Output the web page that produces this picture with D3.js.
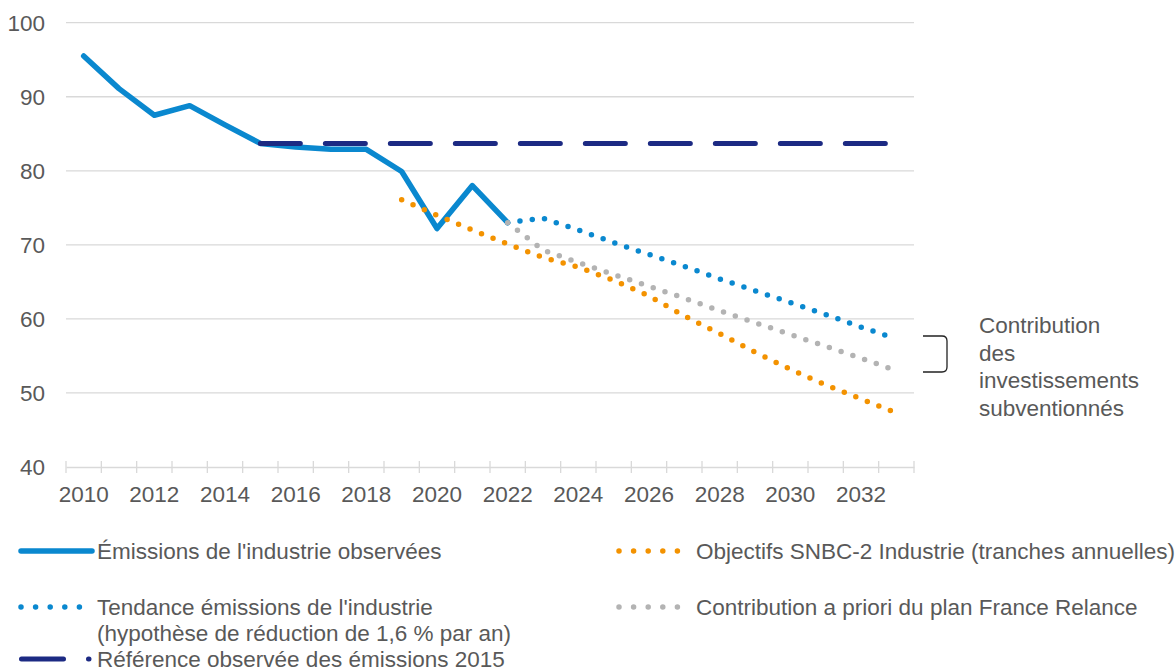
<!DOCTYPE html>
<html>
<head>
<meta charset="utf-8">
<script src="https://cdn.jsdelivr.net/npm/d3@7"></script>
<style>
  body { margin: 0; background: #fff; }
  svg { display: block; font-family: "Liberation Sans", Arial, sans-serif; }
</style>
</head>
<body>
<svg id="chart" width="1176" height="671"></svg>
<script>
// categories (x axis)
const years = [2010, 2011, 2012, 2013, 2014, 2015, 2016, 2017, 2018, 2019, 2020, 2021,
  2022, 2023, 2024, 2025, 2026, 2027, 2028, 2029, 2030, 2031, 2032, 2033];
const yTicks = [40, 50, 60, 70, 80, 90, 100];

// observed industry emissions, 2010-2022
const observedYears = [2010, 2011, 2012, 2013, 2014, 2015, 2016, 2017, 2018, 2019, 2020, 2021, 2022];
const observed = [95.5, 91.1, 87.5, 88.8, 86.2, 83.7, 83.2, 82.9, 82.9, 79.9, 72.2, 78.0, 73.0];

// 2015 reference level
const referenceYears = [2015, 2033];
const reference = [83.7, 83.7];

// trend (-1.6 %/yr hypothesis), 2022-2033
const trendYears = [2022, 2023, 2024, 2025, 2026, 2027, 2028, 2029, 2030, 2031, 2032, 2033];
const trend = [73.0, 73.6, 72.0, 70.3, 68.7, 67.1, 65.4, 63.8, 62.2, 60.6, 58.9, 57.3];

// SNBC-2 objectives, 2019-2033
const snbcYears = [2019, 2020, 2021, 2022, 2023, 2024, 2025, 2026, 2027, 2028, 2029, 2030, 2031, 2032, 2033];
const snbc = [76.1, 74.0, 72.0, 70.1, 68.3, 67.0, 65.2, 63.1, 60.4, 58.0, 55.5, 53.2, 51.1, 49.2, 47.3];

// France Relance contribution, 2022-2033
const relanceYears = [2022, 2023, 2024, 2025, 2026, 2027, 2028, 2029, 2030, 2031, 2032, 2033];
const relance = [73.0, 69.3, 67.6, 66.0, 64.4, 62.8, 61.1, 59.5, 57.9, 56.3, 54.7, 53.0];

const textColor = "#595959";
const gridColor = "#d9d9d9";
const blue = "#0a88cf";
const navy = "#1c2a83";
const orange = "#f39200";
const grey = "#b3b3b3";
const fontSize = 22.5;

const svg = d3.select("#chart");

const x = d3.scaleBand().domain(years).range([66, 914]);
const y = d3.scaleLinear().domain([40, 100]).range([467, 22.7]);
const cx = (yr) => x(yr) + x.bandwidth() / 2;

// gridlines
svg.append("g")
  .selectAll("line")
  .data(yTicks.filter((d) => d > 40))
  .join("line")
  .attr("x1", 66).attr("x2", 914)
  .attr("y1", (d) => y(d)).attr("y2", (d) => y(d))
  .attr("stroke", gridColor)
  .attr("stroke-width", 1.3);

// y labels
svg.append("g")
  .selectAll("text")
  .data(yTicks)
  .join("text")
  .attr("x", 45)
  .attr("y", (d) => y(d) + 8)
  .attr("text-anchor", "end")
  .attr("font-size", fontSize)
  .attr("fill", textColor)
  .text((d) => d);

// x axis
const xAxis = svg.append("g").attr("transform", `translate(0,${y(40)})`)
  .call(d3.axisBottom(x).tickSize(0).tickFormat((d) => (d % 2 === 0 ? d : "")));
xAxis.select(".domain").attr("stroke", gridColor).attr("stroke-width", 1.3);
xAxis.selectAll("text")
  .attr("font-size", fontSize)
  .attr("fill", textColor)
  .attr("dy", 0)
  .attr("y", 35)
  .style("font-family", "Liberation Sans, Arial, sans-serif");

// cross tick marks between categories
xAxis.append("g")
  .selectAll("line")
  .data(years.concat([null]))
  .join("line")
  .attr("x1", (d, i) => 66 + i * x.step())
  .attr("x2", (d, i) => 66 + i * x.step())
  .attr("y1", -6).attr("y2", 6)
  .attr("stroke", gridColor)
  .attr("stroke-width", 1.3);

const line = d3.line().x((d) => cx(d[0])).y((d) => y(d[1]));
const pairs = (ys, vs) => ys.map((yr, i) => [yr, vs[i]]);

// observed
svg.append("path")
  .attr("d", line(pairs(observedYears, observed)))
  .attr("fill", "none")
  .attr("stroke", blue)
  .attr("stroke-width", 5.5)
  .attr("stroke-linejoin", "round")
  .attr("stroke-linecap", "round");

// reference dashed
svg.append("path")
  .attr("d", line(pairs(referenceYears, reference)))
  .attr("fill", "none")
  .attr("stroke", navy)
  .attr("stroke-width", 5)
  .attr("stroke-dasharray", "40 25")
  .attr("stroke-linecap", "round");

function dotted(ys, vs, color) {
  svg.append("path")
    .attr("d", line(pairs(ys, vs)))
    .attr("fill", "none")
    .attr("stroke", color)
    .attr("stroke-width", 5.5)
    .attr("stroke-dasharray", "0 12.4")
    .attr("stroke-linecap", "round");
}
dotted(trendYears, trend, blue);
dotted(snbcYears, snbc, orange);
dotted(relanceYears, relance, grey);

// bracket annotation
svg.append("path")
  .attr("d", "M923,336 H942 Q947,336 947,341 V367 Q947,372 942,372 H923")
  .attr("fill", "none")
  .attr("stroke", "#222")
  .attr("stroke-width", 1.3);

const note = ["Contribution", "des", "investissements", "subventionnés"];
svg.append("g")
  .selectAll("text")
  .data(note)
  .join("text")
  .attr("x", 979)
  .attr("y", (d, i) => 333 + i * 27.7)
  .attr("font-size", fontSize)
  .attr("fill", textColor)
  .text((d) => d);

// legend
const legend = svg.append("g");
function legendText(xp, yp, lines) {
  legend.append("g")
    .selectAll("text")
    .data(lines)
    .join("text")
    .attr("x", xp)
    .attr("y", (d, i) => yp + 8 + i * 26)
    .attr("font-size", fontSize)
    .attr("fill", textColor)
    .text((d) => d);
}
function legendDots(xp, yp, color) {
  legend.append("line")
    .attr("x1", xp).attr("x2", xp + 60)
    .attr("y1", yp).attr("y2", yp)
    .attr("stroke", color)
    .attr("stroke-width", 5.5)
    .attr("stroke-dasharray", "0 14.6")
    .attr("stroke-linecap", "round");
}

legend.append("line")
  .attr("x1", 21).attr("x2", 92)
  .attr("y1", 551).attr("y2", 551)
  .attr("stroke", blue).attr("stroke-width", 5.5).attr("stroke-linecap", "round");
legendText(97, 551, ["Émissions de l'industrie observées"]);

legendDots(21, 607, blue);
legendText(97, 607, ["Tendance émissions de l'industrie", "(hypothèse de réduction de 1,6 % par an)"]);

legend.append("line")
  .attr("x1", 21.5).attr("x2", 89)
  .attr("y1", 659).attr("y2", 659)
  .attr("stroke", navy).attr("stroke-width", 5)
  .attr("stroke-dasharray", "42 25").attr("stroke-linecap", "round");
legendText(97, 659, ["Référence observée des émissions 2015"]);

legendDots(619, 551, orange);
legendText(696, 551, ["Objectifs SNBC-2 Industrie (tranches annuelles)"]);

legendDots(619, 607, grey);
legendText(696, 607, ["Contribution a priori du plan France Relance"]);
</script>
</body>
</html>
